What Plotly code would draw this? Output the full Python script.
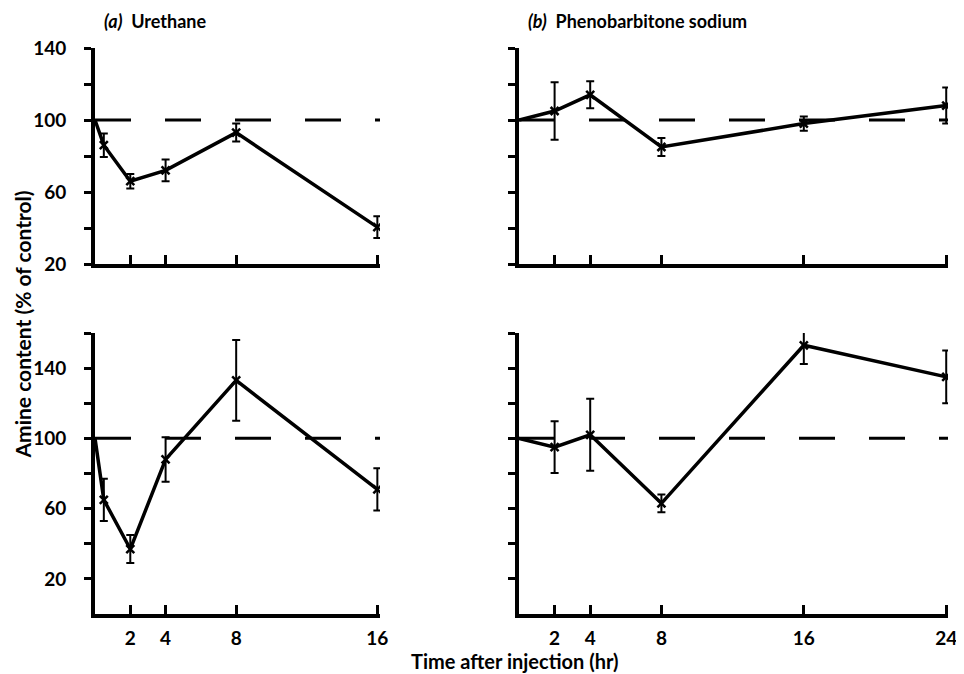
import plotly.graph_objects as go

# ---------------- data ----------------
control = 100
times_ure = [0.5, 2, 4, 8, 16]
ure_top = [86, 66, 72, 93, 40.5]
ure_top_err = [6.5, 4, 6, 5, 6]
ure_bot = [65, 37, 88, 133, 71]
ure_bot_err = [12, 8, 12.7, 23, 12]

times_phe = [2, 4, 8, 16, 24]
phe_top = [105, 114, 85, 98, 108]
phe_top_err = [16, 7.5, 5, 4, 10]
phe_bot = [95, 102, 63, 153, 135]
phe_bot_err = [14.7, 20.5, 5, 10.7, 15]

yticks_top = [20, 40, 60, 80, 100, 120, 140]
yticks_bot = [20, 40, 60, 80, 100, 120, 140, 160]
ylabels = {20: "20", 60: "60", 100: "100", 140: "140"}
xticks_ure = [2, 4, 8, 16]
xticks_phe = [2, 4, 8, 16, 24]

W, H = 964, 674
OFF = 8  # page body margin
FONT = "Lato"

fig = go.Figure()

def fx(px):
    return (px - OFF) / W

def fy(py):
    return 1 - (py - OFF) / H

panels = [
    ("x", "y", times_ure, ure_top, ure_top_err, (95, 380), (264, 48), [0, 16.15], [20, 140], xticks_ure, False, True, yticks_top),
    ("x2", "y2", times_phe, phe_top, phe_top_err, (519, 948), (264, 48), [0, 24.1], [20, 140], xticks_phe, False, False, yticks_top),
    ("x3", "y3", times_ure, ure_bot, ure_bot_err, (95, 380), (614, 333), [0, 16.15], [0, 160], xticks_ure, True, True, yticks_bot),
    ("x4", "y4", times_phe, phe_bot, phe_bot_err, (519, 948), (614, 333), [0, 24.1], [0, 160], xticks_phe, True, False, yticks_bot),
]

tickfont = dict(family=FONT, size=19, color="black", weight="bold")

layout = {}
for i, (xa, ya, t, v, e, xd, yd, xr, yr, xt, showx, showy, yt) in enumerate(panels):
    fig.add_trace(go.Scatter(x=[0] + t, y=[control] + v, mode="lines",
                             line=dict(color="black", width=3.5),
                             xaxis=xa, yaxis=ya, showlegend=False, hoverinfo="skip"))
    fig.add_trace(go.Scatter(x=t, y=v, mode="markers",
                             marker=dict(symbol="x-thin-open", size=8, color="black",
                                         line=dict(color="black", width=2.5)),
                             error_y=dict(type="data", array=e, visible=True,
                                          color="black", thickness=2, width=4),
                             xaxis=xa, yaxis=ya, showlegend=False))
    fig.add_shape(type="line", x0=0, x1=xr[1], y0=control, y1=control,
                  xref=xa, yref=ya,
                  line=dict(color="black", width=3, dash="36px,34px"))
    suffix = "" if i == 0 else str(i + 1)
    layout["xaxis" + suffix] = dict(
        domain=[fx(xd[0]), fx(xd[1])], range=xr, anchor=ya,
        showline=True, linewidth=4, linecolor="black", mirror=False,
        showgrid=False, zeroline=False, automargin=False,
        tickmode="array", tickvals=xt,
        ticktext=[str(x) for x in xt] if showx else ["" for _ in xt],
        ticks="inside", ticklen=9, tickwidth=3, tickcolor="black",
        tickfont=tickfont,
        ticklabelstandoff=4,
    )
    layout["yaxis" + suffix] = dict(
        domain=[fy(yd[0]), fy(yd[1])], range=yr, anchor=xa,
        showline=True, linewidth=4, linecolor="black",
        showgrid=False, zeroline=False, automargin=False,
        tickmode="array", tickvals=yt,
        ticktext=[ylabels.get(y, "") if showy else "" for y in yt],
        ticks="outside", ticklen=7, tickwidth=3, tickcolor="black",
        tickfont=tickfont,
        ticklabelstandoff=14,
    )

fig.update_layout(
    width=W, height=H,
    margin=dict(l=0, r=0, t=0, b=0, pad=0, autoexpand=False),
    paper_bgcolor="white", plot_bgcolor="white",
    **layout,
)

ann_font = dict(family=FONT, size=18, color="black", weight="bold")
fig.add_annotation(text="<i>(a)</i>  Urethane", xref="paper", yref="paper",
                   x=fx(102), y=fy(8), xanchor="left", yanchor="top",
                   showarrow=False, font=ann_font)
fig.add_annotation(text="<i>(b)</i>  Phenobarbitone sodium", xref="paper", yref="paper",
                   x=fx(526), y=fy(8), xanchor="left", yanchor="top",
                   showarrow=False, font=ann_font)
fig.add_annotation(text="Amine content (% of control)", xref="paper", yref="paper",
                   x=fx(8), y=fy(325), xanchor="left", yanchor="middle",
                   textangle=-90, showarrow=False, borderpad=0,
                   font=dict(family=FONT, size=21, color="black", weight="bold"))
fig.add_annotation(text="Time after injection (hr)", xref="paper", yref="paper",
                   x=fx(514), y=fy(661), xanchor="center", yanchor="middle",
                   showarrow=False,
                   font=dict(family=FONT, size=20, color="black", weight="bold"))

fig.write_html("out.html")
